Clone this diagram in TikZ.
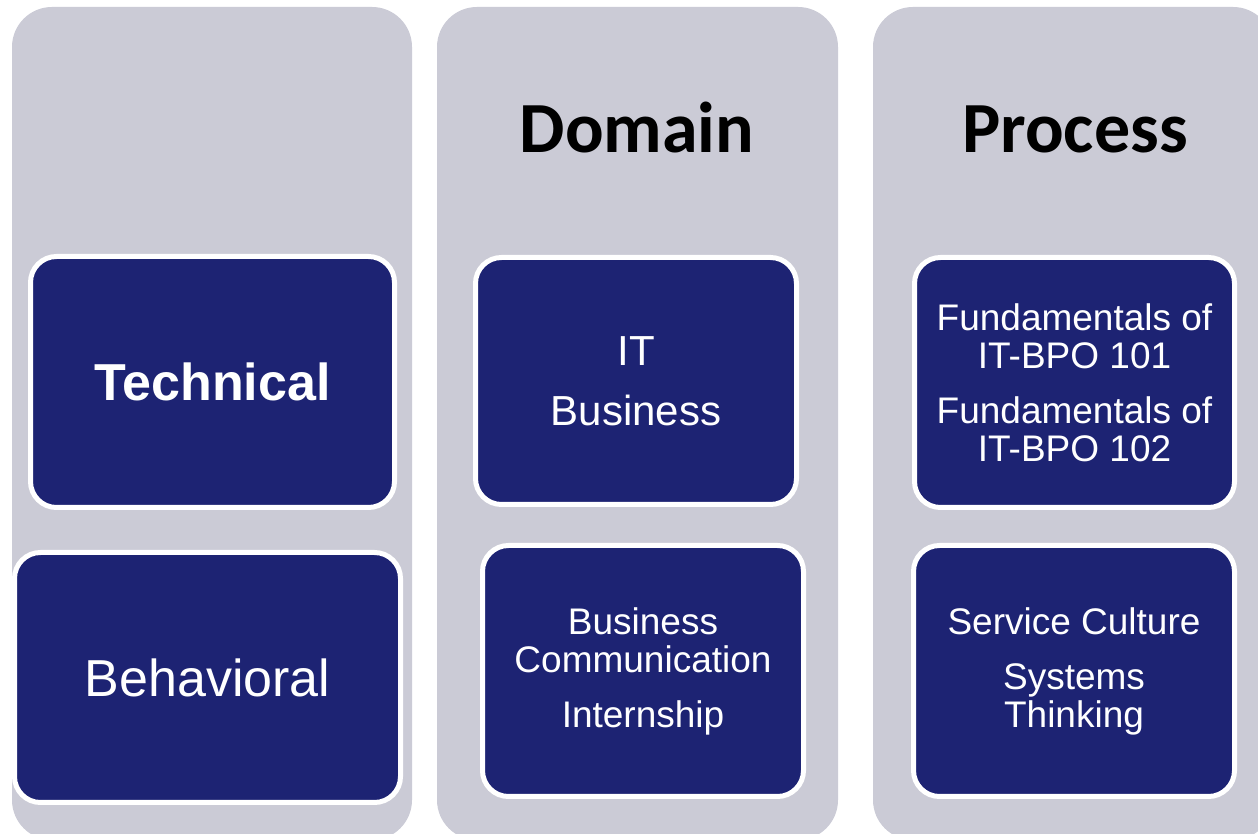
\documentclass[tikz,border=0pt]{standalone}
\usepackage{fontspec}
\setmainfont{Liberation Sans}
\newfontfamily\headfont{Carlito}
\definecolor{colgray}{RGB}{203,203,214}
\definecolor{navy}{RGB}{29,35,115}

\tikzset{
  column/.style={fill=colgray, rounded corners=40pt},
  course/.style={draw=white, line width=5pt, fill=navy, rounded corners=26pt,
    text=white, align=center, inner sep=0pt},
  big/.style={font=\fontsize{52}{60}\selectfont},
  small/.style={font=\fontsize{37}{38}\selectfont},
  title/.style={anchor=base, font=\headfont\bfseries\fontsize{72}{80}\selectfont}
}

\begin{document}
\begin{tikzpicture}[x=1pt,y=1pt]
\useasboundingbox (0,0) rectangle (1258,834);
\clip (0,0) rectangle (1258,834);
\begin{scope}[shift={(12,0)}]
  \fill[column] (0,-6) rectangle (400,827);
  \node[course, font=\bfseries\fontsize{52}{60}\selectfont, minimum width=364pt, minimum height=251pt]
    (technical) at (200.5,452) {Technical};
  \node[course, big, minimum width=386pt, minimum height=250pt]
    (behavioral) at (195.5,156.5) {Behavioral};
\end{scope}
\begin{scope}[shift={(437,0)}]
  \fill[column] (0,-6) rectangle (401,827);
  \node[title] (domain) at (200,681) {Domain};
  \node[course, font=\fontsize{42}{43.5}\selectfont, minimum width=321pt, minimum height=247pt]
    (itbusiness) at (199,453) {IT\\[16.5pt]Business};
  \node[course, small, minimum width=321pt, minimum height=251pt]
    (communication) at (206,163) {Business\\Communication\\[17pt]Internship};
\end{scope}
\begin{scope}[shift={(873,0)}]
  \fill[column] (0,-6) rectangle (400,827);
  \node[title] (process) at (202,681) {Process};
  \node[course, small, minimum width=320pt, minimum height=250pt]
    (fundamentals) at (201.5,451.5) {Fundamentals of\\IT-BPO 101\\[17pt]Fundamentals of\\IT-BPO 102};
  \node[course, small, minimum width=321pt, minimum height=251pt]
    (service) at (201,163) {Service Culture\\[17pt]Systems\\Thinking};
\end{scope}
\end{tikzpicture}
\end{document}
